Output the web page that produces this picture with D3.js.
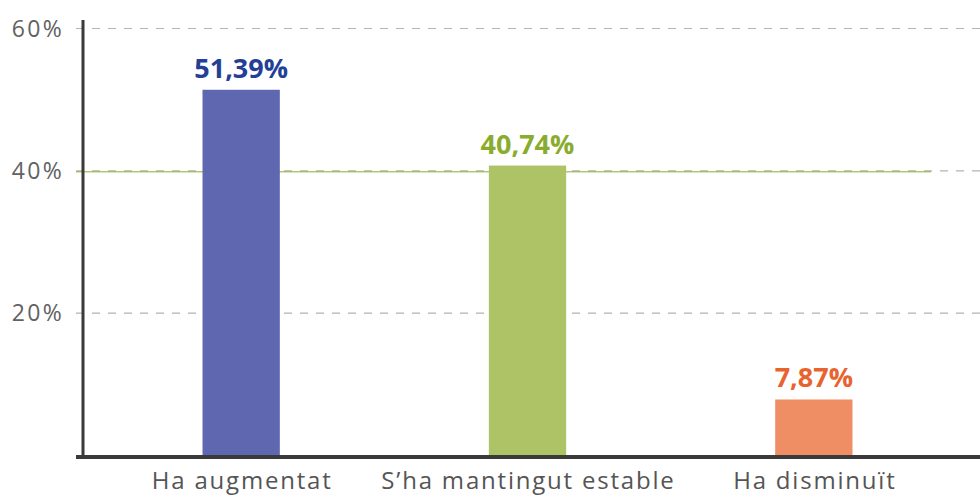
<!DOCTYPE html>
<html><head><meta charset="utf-8">
<script src="https://cdn.jsdelivr.net/npm/d3@7/dist/d3.min.js"></script>
<style>
body{margin:0;background:#fff;}
svg{display:block;}
</style></head>
<body>
<svg id="chart" width="980" height="496"></svg>
<script>
const categories = ["Ha augmentat", "S’ha mantingut estable", "Ha disminuït"];
const values = [51.39, 40.74, 7.87];
const valueLabels = ["51,39%", "40,74%", "7,87%"];
const yTicks = [20, 40, 60];
const yTickLabels = ["20%", "40%", "60%"];
const barColors = ["#5f67b0", "#aec266", "#ef8e65"];
const labelColors = ["#233f96", "#8aac2e", "#e8632e"];

const svg = d3.select("#chart");
const font = "'Open Sans', sans-serif";

const y = d3.scaleLinear().domain([0, 60]).range([455.5, 28.5]);
const x = d3.scaleBand().domain(categories).range([98, 957]).paddingInner(0.73).paddingOuter(0.365);

// gridlines
svg.append("g").selectAll("line").data(yTicks).join("line")
  .attr("x1", 76).attr("x2", 980)
  .attr("y1", d => y(d)).attr("y2", d => y(d))
  .attr("stroke", "#b4b4b4").attr("stroke-width", 1.2)
  .attr("stroke-dasharray", "8,8");

// thin olive reference line near 40%
svg.append("line")
  .attr("x1", 76).attr("x2", 931)
  .attr("y1", y(40) + 1).attr("y2", y(40) + 1)
  .attr("stroke", "#8aac2e").attr("stroke-width", 1);

// tick labels
svg.append("g").selectAll("text").data(yTicks).join("text")
  .attr("x", 64).attr("y", d => y(d) + 8)
  .attr("text-anchor", "end")
  .attr("font-family", font).attr("font-size", 23)
  .attr("letter-spacing", "2.3px")
  .attr("fill", "#626262")
  .text((d, i) => yTickLabels[i]);

// bars
svg.append("g").selectAll("rect").data(values).join("rect")
  .attr("x", (d, i) => x(categories[i]))
  .attr("width", x.bandwidth())
  .attr("y", d => y(d))
  .attr("height", d => y(0) - y(d))
  .attr("fill", (d, i) => barColors[i]);

// value labels
svg.append("g").selectAll("text").data(values).join("text")
  .attr("x", (d, i) => x(categories[i]) + x.bandwidth() / 2)
  .attr("y", d => y(d) - 12)
  .attr("text-anchor", "middle")
  .attr("font-family", font).attr("font-weight", 700).attr("font-size", 27)
  .attr("fill", (d, i) => labelColors[i])
  .text((d, i) => valueLabels[i]);

// axes lines
svg.append("line").attr("x1", 83).attr("x2", 83).attr("y1", 20).attr("y2", 459)
  .attr("stroke", "#3a3a3a").attr("stroke-width", 3);
svg.append("line").attr("x1", 76).attr("x2", 980).attr("y1", 457).attr("y2", 457)
  .attr("stroke", "#3a3a3a").attr("stroke-width", 4);

// category labels
svg.append("g").selectAll("text").data(categories).join("text")
  .attr("x", d => x(d) + x.bandwidth() / 2 + 1)
  .attr("y", 489)
  .attr("text-anchor", "middle")
  .attr("font-family", font).attr("font-size", 24)
  .attr("letter-spacing", "1.8px")
  .attr("fill", "#555")
  .text(d => d);
</script>
</body></html>
